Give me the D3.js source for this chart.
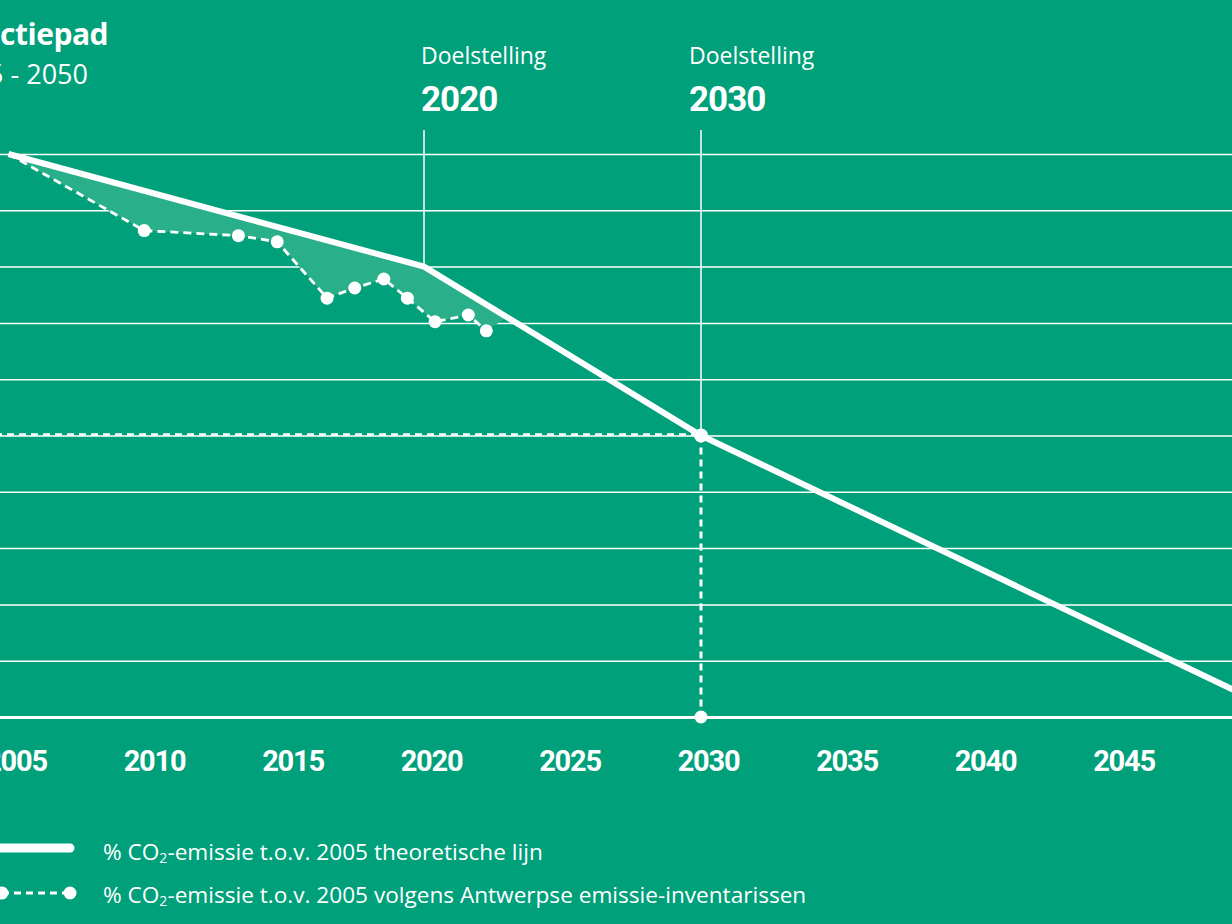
<!DOCTYPE html>
<html>
<head>
<meta charset="utf-8">
<script src="https://cdn.jsdelivr.net/npm/d3@7"></script>
<style>
    html, body { margin: 0; padding: 0; background: #00a07a; overflow: hidden; }
    #chart { width: 1232px; height: 924px; }
    text { fill: #fff; font-family: "Open Sans", sans-serif; }
</style>
</head>
<body>
<div id="chart"></div>
<script>
// theoretical reduction path (% of 2005 emissions)
const pathYears = [2005, 2020, 2030, 2050];
const pathValues = [100, 80, 50, 3];

// Antwerp emission inventories
const inventoryYears = [2005, 2009.9, 2013.3, 2014.7, 2016.5, 2017.5, 2018.55, 2019.4, 2020.4, 2021.6, 2022.25];
const inventoryValues = [100, 86.4, 85.5, 84.4, 74.4, 76.2, 77.8, 74.4, 70.2, 71.4, 68.6];

const tickYears = [2005, 2010, 2015, 2020, 2025, 2030, 2035, 2040, 2045, 2050];
const gridValues = [0, 10, 20, 30, 40, 50, 60, 70, 80, 90, 100];
const targetYears = [2020, 2030];

document.addEventListener('DOMContentLoaded', function () {
    const width = 1232, height = 924;
    const svg = d3.select('#chart')
    .append('svg')
    .attr('width', width)
    .attr('height', height);

    const x = d3.scaleLinear().domain([2005, 2050]).range([8.5, 1255]);
    const y = d3.scaleLinear().domain([0, 100]).range([717, 154]);
    // polylinear scale gives the theoretical value for any year
    const theo = d3.scaleLinear().domain(pathYears).range(pathValues);

    // gridlines
    svg.append('g')
    .call(d3.axisLeft(y).tickValues(gridValues).tickSize(-width - 20).tickFormat(''))
    .call(g => g.select('.domain').remove())
    .call(g => g.selectAll('line')
        .attr('transform', 'translate(-10,0)')
        .attr('stroke', '#fff')
        .attr('stroke-width', d => d === 0 ? 3 : 1.5));

    // x axis labels
    svg.append('g')
    .attr('transform', 'translate(0,' + y(0) + ')')
    .call(d3.axisBottom(x).tickValues(tickYears).tickSize(0).tickPadding(33).tickFormat(d3.format('d')))
    .call(g => g.select('.domain').remove())
    .call(g => g.selectAll('text')
        .attr('dx', 7)
        .style('font-family', 'Roboto, sans-serif')
        .style('font-weight', 700)
        .style('font-size', '29px')
        .style('letter-spacing', '-1.2px')
        .attr('fill', '#fff'));

    // shaded gap between theoretical line and inventories
    const lastYear = 2023;
    const upper = inventoryYears.filter(d => d <= 2020).concat([2020, lastYear]);
    const poly = upper.map(d => [x(d), y(theo(d))])
    .concat(inventoryYears.slice().reverse().map((d, i) => [x(d), y(inventoryValues[inventoryValues.length - 1 - i])]));
    svg.append('path')
    .attr('d', 'M' + poly.join('L') + 'Z')
    .attr('fill', '#29af89');

    // target markers
    targetYears.forEach(t => {
        const tx = x(t) - (t === 2030 ? 12 : 3);
        svg.append('line')
        .attr('x1', x(t)).attr('x2', x(t))
        .attr('y1', 130).attr('y2', y(theo(t)))
        .attr('stroke', '#fff')
        .attr('stroke-width', 1.5);
        svg.append('text')
        .attr('x', tx).attr('y', 64)
        .style('font-size', '23px')
        .style('font-weight', 400)
        .text('Doelstelling');
        svg.append('text')
        .attr('x', tx).attr('y', 111)
        .style('font-family', 'Roboto, sans-serif')
        .style('font-size', '35px')
        .style('font-weight', 700)
        .style('letter-spacing', '-1px')
        .text(t);
    });

    // 2030 guide lines
    const t30 = 2030;
    svg.append('line')
    .attr('x1', -5).attr('x2', x(t30))
    .attr('y1', y(theo(t30)) - 1).attr('y2', y(theo(t30)) - 1)
    .attr('stroke', '#fff').attr('stroke-width', 2.5).attr('stroke-dasharray', '7,5');
    svg.append('line')
    .attr('x1', x(t30)).attr('x2', x(t30))
    .attr('y1', y(theo(t30))).attr('y2', y(0))
    .attr('stroke', '#fff').attr('stroke-width', 3).attr('stroke-dasharray', '7,5');

    // theoretical line
    const line = d3.line().x(d => x(d[0])).y(d => y(d[1]));
    svg.append('path')
    .attr('d', line(d3.zip(pathYears, pathValues)))
    .attr('fill', 'none')
    .attr('stroke', '#fff')
    .attr('stroke-width', 6);

    // inventory line
    svg.append('path')
    .attr('d', line(d3.zip(inventoryYears, inventoryValues)))
    .attr('fill', 'none')
    .attr('stroke', '#fff')
    .attr('stroke-width', 2.8)
    .attr('stroke-dasharray', '8,5');

    svg.selectAll('.dot')
    .data(d3.zip(inventoryYears, inventoryValues).slice(1))
    .enter()
    .append('circle')
    .attr('class', 'dot')
    .attr('cx', d => x(d[0]))
    .attr('cy', d => y(d[1]))
    .attr('r', 6.5)
    .attr('fill', '#fff');

    // 2030 target dots
    svg.append('circle').attr('cx', x(t30)).attr('cy', y(theo(t30))).attr('r', 7).attr('fill', '#fff');
    svg.append('circle').attr('cx', x(t30)).attr('cy', y(0)).attr('r', 6.5).attr('fill', '#fff');

    // title (cut off on the left like the original)
    svg.append('text')
    .attr('x', 108).attr('y', 45)
    .attr('text-anchor', 'end')
    .style('font-size', '30px')
    .style('font-weight', 700)
    .style('letter-spacing', '-0.5px')
    .text('Reductiepad');
    svg.append('text')
    .attr('x', 88).attr('y', 84)
    .attr('text-anchor', 'end')
    .style('font-size', '27px')
    .style('font-weight', 400)
    .text('2005 - 2050');

    // legend
    const legend = svg.append('g');
    legend.append('line')
    .attr('x1', -20).attr('x2', 70).attr('y1', 848).attr('y2', 848)
    .attr('stroke', '#fff').attr('stroke-width', 9).attr('stroke-linecap', 'round');
    legend.append('line')
    .attr('x1', 2).attr('x2', 70).attr('y1', 893).attr('y2', 893)
    .attr('stroke', '#fff').attr('stroke-width', 2.8).attr('stroke-dasharray', '7,5');
    [2, 70].forEach(cx => legend.append('circle').attr('cx', cx).attr('cy', 893).attr('r', 6.5).attr('fill', '#fff'));

    const labels = ['theoretische lijn', 'volgens Antwerpse emissie-inventarissen'];
    labels.forEach((l, i) => {
        const t = legend.append('text')
        .attr('x', 103).attr('y', 860 + i * 43)
        .style('font-size', '22.6px')
        .style('font-weight', 400);
        t.append('tspan').text('% CO');
        t.append('tspan').text('2').style('font-size', '14px').attr('dy', 3);
        t.append('tspan').text('-emissie t.o.v. 2005 ' + l).attr('dy', -3);
    });
});
</script>
</body>
</html>
